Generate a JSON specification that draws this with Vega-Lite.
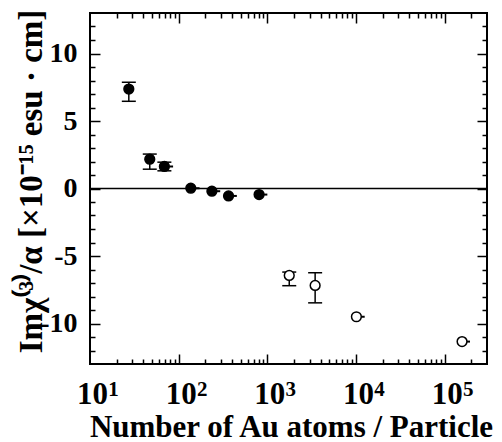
{
  "$schema": "https://vega.github.io/schema/vega-lite/v6.json",
  "width": 397,
  "height": 351,
  "autosize": "none",
  "padding": {"left": 90, "top": 13, "right": 15, "bottom": 78},
  "background": "white",
  "config": {
    "view": {"stroke": "black", "strokeWidth": 2},
    "axis": {
      "domain": false, "grid": false, "tickColor": "black", "tickWidth": 1.5,
      "labelColor": "black", "titleColor": "black",
      "labelFont": "Liberation Serif", "labelFontWeight": "bold",
      "titleFont": "Liberation Serif", "titleFontWeight": "bold",
      "labelOverlap": false, "labelFlush": false, "labelBound": false
    }
  },
  "datasets": {
    "pts": [
      {"n": 27.4, "v": 7.37, "t": "filled"},
      {"n": 47.2, "v": 2.17, "t": "filled"},
      {"n": 69, "v": 1.63, "t": "filled"},
      {"n": 137, "v": 0.02, "t": "filled"},
      {"n": 237, "v": -0.2, "t": "filled"},
      {"n": 365, "v": -0.55, "t": "filled"},
      {"n": 807, "v": -0.45, "t": "filled"},
      {"n": 1766, "v": -6.44, "t": "open"},
      {"n": 3459, "v": -7.18, "t": "open"},
      {"n": 10100, "v": -9.5, "t": "open"},
      {"n": 157000, "v": -11.34, "t": "open"}
    ],
    "errs": [
      {"n": 27.4, "lo": 6.46, "hi": 7.87},
      {"n": 47.2, "lo": 1.43, "hi": 2.55},
      {"n": 69, "lo": 1.31, "hi": 1.95},
      {"n": 1766, "lo": -7.2, "hi": -6.19},
      {"n": 3459, "lo": -8.47, "hi": -6.24}
    ],
    "stubs": [
      {"n": 69, "v": 1.63, "n2": 86.5},
      {"n": 137, "v": 0.02, "n2": 172},
      {"n": 237, "v": -0.2, "n2": 294},
      {"n": 365, "v": -0.55, "n2": 453},
      {"n": 807, "v": -0.45, "n2": 1000},
      {"n": 10100, "v": -9.5, "n2": 12530},
      {"n": 157000, "v": -11.34, "n2": 193000}
    ]
  },
  "resolve": {"axis": {"x": "independent", "y": "independent"}},
  "layer": [
    {
      "data": {"values": [{}]},
      "mark": {"type": "rule", "color": "black", "strokeWidth": 1.5},
      "encoding": {
        "y": {"datum": 0, "type": "quantitative", "scale": {"domain": [-13, 13], "nice": false, "zero": false}, "axis": null}
      }
    },
    {
      "data": {"name": "errs"},
      "mark": {"type": "rule", "color": "black", "strokeWidth": 1.5},
      "encoding": {
        "x": {
          "field": "n", "type": "quantitative",
          "scale": {"type": "log", "domain": [10, 300000], "nice": false},
          "axis": {
            "orient": "bottom", "values": [10, 100, 1000, 10000, 100000], "ticks": false,
            "labelExpr": "'10'", "labelFontSize": 31, "labelOffset": 2, "labelBaseline": "alphabetic", "labelPadding": 39,
            "title": "Number of Au atoms / Particle", "titleFontSize": 31, "titleBaseline": "alphabetic",
            "titleX": 201, "titleY": 72, "titleAlign": "center"
          }
        },
        "y": {
          "field": "lo", "type": "quantitative",
          "scale": {"domain": [-13, 13], "nice": false, "zero": false},
          "axis": {
            "orient": "left", "values": [-10, -5, 0, 5, 10], "ticks": false,
            "labelExpr": "datum.value < 0 ? '-' + abs(datum.value) : '' + datum.value",
            "labelFontSize": 28, "labelPadding": 13,
            "title": "Imχ⁽³⁾/α [×10⁻¹⁵ esu · cm]", "titleFontSize": 33, "titleBaseline": "alphabetic",
            "titleAngle": -90, "titleX": -49, "titleY": 168, "titleAlign": "center"
          }
        },
        "y2": {"field": "hi"}
      }
    },
    {
      "data": {"name": "errs"},
      "mark": {"type": "tick", "orient": "horizontal", "size": 14, "thickness": 1.5, "color": "black", "opacity": 1},
      "encoding": {
        "x": {
          "field": "n", "type": "quantitative",
          "scale": {"type": "log", "domain": [10, 300000], "nice": false},
          "axis": {
            "orient": "bottom", "values": [10, 100, 1000, 10000, 100000], "ticks": false,
            "labelExpr": "'' + round(log(datum.value) / LN10)", "labelFontSize": 21, "labelOffset": 23,
            "labelBaseline": "alphabetic", "labelPadding": 31, "title": null
          }
        },
        "y": {
          "field": "hi", "type": "quantitative",
          "scale": {"domain": [-13, 13], "nice": false, "zero": false},
          "axis": {
            "orient": "right", "labels": false, "title": null,
            "values": [-12, -11, -10, -9, -8, -7, -6, -5, -4, -3, -2, -1, 0, 1, 2, 3, 4, 5, 6, 7, 8, 9, 10, 11, 12],
            "tickSize": {"condition": {"test": "datum.value % 5 === 0", "value": -10}, "value": -5}
          }
        }
      }
    },
    {
      "data": {"name": "errs"},
      "mark": {"type": "tick", "orient": "horizontal", "size": 14, "thickness": 1.5, "color": "black", "opacity": 1},
      "encoding": {
        "x": {
          "field": "n", "type": "quantitative",
          "scale": {"type": "log", "domain": [10, 300000], "nice": false},
          "axis": {
            "orient": "top", "labels": false, "title": null,
            "values": [20, 30, 40, 50, 60, 70, 80, 90, 100, 200, 300, 400, 500, 600, 700, 800, 900, 1000, 2000, 3000, 4000, 5000, 6000, 7000, 8000, 9000, 10000, 20000, 30000, 40000, 50000, 60000, 70000, 80000, 90000, 100000, 200000],
            "tickSize": {"condition": {"test": "abs(log(datum.value) / LN10 - round(log(datum.value) / LN10)) < 0.001", "value": -10}, "value": -5}
          }
        },
        "y": {"field": "lo", "type": "quantitative", "scale": {"domain": [-13, 13], "nice": false, "zero": false}, "axis": null}
      }
    },
    {
      "data": {"name": "stubs"},
      "mark": {"type": "rule", "color": "black", "strokeWidth": 2},
      "encoding": {
        "x": {"field": "n", "type": "quantitative", "scale": {"type": "log", "domain": [10, 300000], "nice": false}, "axis": null},
        "x2": {"field": "n2"},
        "y": {"field": "v", "type": "quantitative", "scale": {"domain": [-13, 13], "nice": false, "zero": false}, "axis": null}
      }
    },
    {
      "data": {"name": "pts"},
      "mark": {"type": "point", "shape": "circle", "filled": true, "size": 95, "stroke": "black", "strokeWidth": 1.5, "opacity": 1},
      "encoding": {
        "x": {
          "field": "n", "type": "quantitative",
          "scale": {"type": "log", "domain": [10, 300000], "nice": false},
          "axis": {
            "orient": "bottom", "labels": false, "title": null,
            "values": [20, 30, 40, 50, 60, 70, 80, 90, 100, 200, 300, 400, 500, 600, 700, 800, 900, 1000, 2000, 3000, 4000, 5000, 6000, 7000, 8000, 9000, 10000, 20000, 30000, 40000, 50000, 60000, 70000, 80000, 90000, 100000, 200000],
            "tickSize": {"condition": {"test": "abs(log(datum.value) / LN10 - round(log(datum.value) / LN10)) < 0.001", "value": -10}, "value": -5}
          }
        },
        "y": {
          "field": "v", "type": "quantitative",
          "scale": {"domain": [-13, 13], "nice": false, "zero": false},
          "axis": {
            "orient": "left", "labels": false, "title": null,
            "values": [-12, -11, -10, -9, -8, -7, -6, -5, -4, -3, -2, -1, 0, 1, 2, 3, 4, 5, 6, 7, 8, 9, 10, 11, 12],
            "tickSize": {"condition": {"test": "datum.value % 5 === 0", "value": -10}, "value": -5}
          }
        },
        "fill": {"field": "t", "type": "nominal", "scale": {"domain": ["filled", "open"], "range": ["black", "white"]}, "legend": null}
      }
    }
  ]
}
